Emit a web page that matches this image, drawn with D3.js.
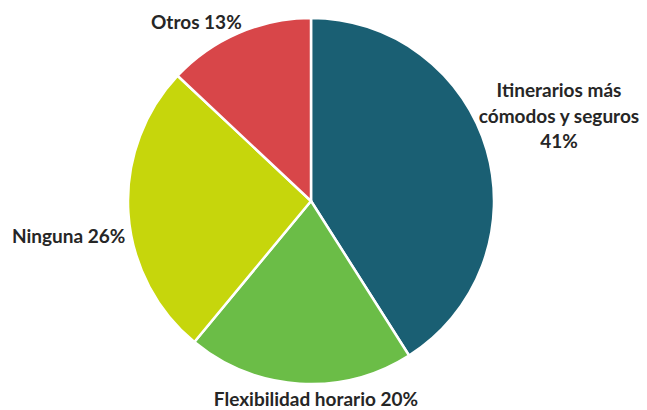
<!DOCTYPE html>
<html>
<head>
<meta charset="utf-8">
<script src="https://cdn.jsdelivr.net/npm/d3@7"></script>
<style>
  html, body { margin: 0; padding: 0; background: #fff; }
  svg text { font-family: Lato, "Open Sans", sans-serif; font-weight: 700; fill: #262626; }
</style>
</head>
<body>
<svg id="chart" width="647" height="410"></svg>
<script>
// Motivos (porcentaje de respuestas)
const categories = ["Itinerarios más cómodos y seguros", "Flexibilidad horario", "Ninguna", "Otros"];
const values = [41, 20, 26, 13];
const colors = ["#1a5f73", "#6bbd47", "#c6d60c", "#d84649"];
// Etiquetas: líneas de texto
const labelLines = [
  ["Itinerarios más", "cómodos y seguros", "41%"],
  ["Flexibilidad horario 20%"],
  ["Ninguna 26%"],
  ["Otros 13%"]
];

const svg = d3.select("#chart");
const cx = 311, cy = 201, r = 183;

const pie = d3.pie().sort(null).value(d => d)(values);
const arc = d3.arc().innerRadius(0).outerRadius(r);

const g = svg.append("g").attr("transform", `translate(${cx},${cy})`);
g.selectAll("path")
  .data(pie)
  .join("path")
  .attr("d", arc)
  .attr("fill", (d, i) => colors[i])
  .attr("stroke", "#fff")
  .attr("stroke-width", 2.5)
  .attr("stroke-linejoin", "round");

// label placement (absolute page coordinates)
const labelPos = [
  { x: 559, y: 97, anchor: "middle", lh: 25.5 },
  { x: 316, y: 406, anchor: "middle", lh: 0 },
  { x: 12, y: 243, anchor: "start", lh: 0 },
  { x: 151, y: 29, anchor: "start", lh: 0 }
];

labelLines.forEach((lines, i) => {
  const p = labelPos[i];
  const t = svg.append("text")
    .attr("text-anchor", p.anchor)
    .attr("font-size", 19);
  lines.forEach((line, j) => {
    t.append("tspan").attr("x", p.x).attr("y", p.y + j * p.lh).text(line);
  });
});
</script>
</body>
</html>
